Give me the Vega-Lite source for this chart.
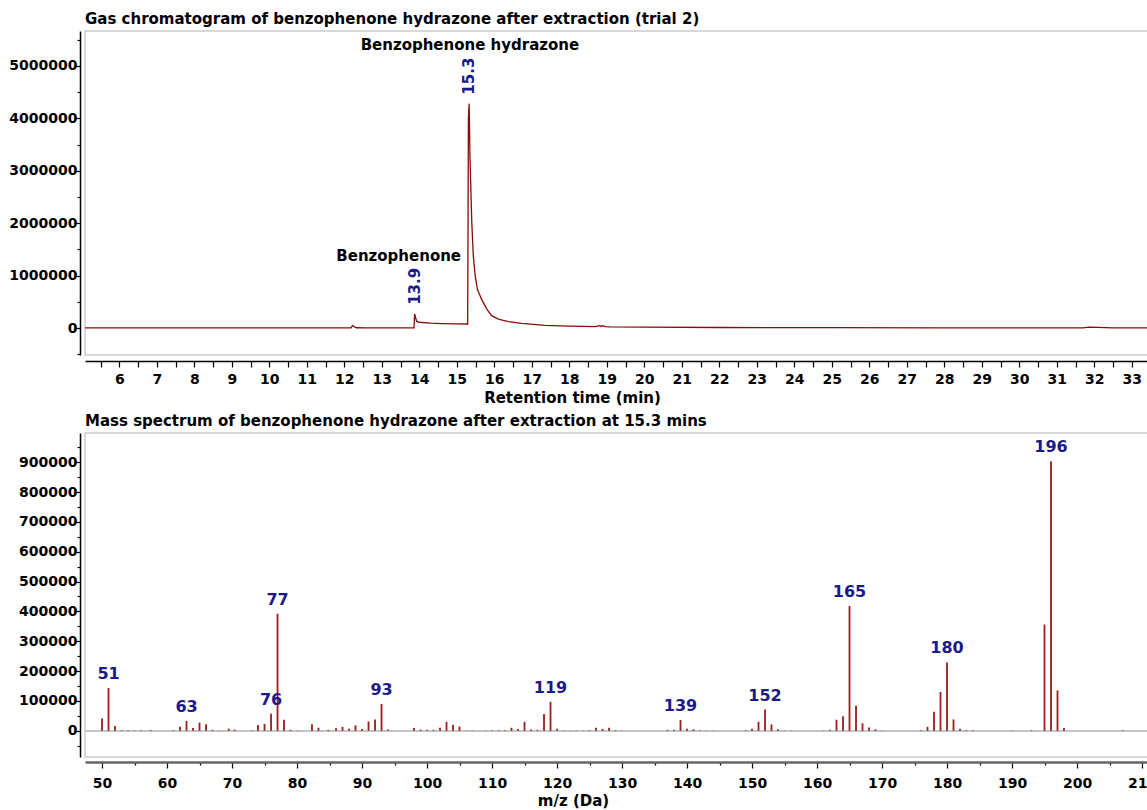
{
  "$schema": "https://vega.github.io/schema/vega-lite/v6.json",
  "padding": {"left": 8, "top": 11, "right": 0, "bottom": 0},
  "spacing": 7,
  "datasets": {
    "gc": [
      {"t": 5.085, "v": 4000}, {"t": 6, "v": 4000}, {"t": 7, "v": 3000}, {"t": 8, "v": 2000},
      {"t": 9, "v": 1000}, {"t": 10, "v": 1000}, {"t": 11, "v": 1000}, {"t": 12, "v": 2000},
      {"t": 12.18, "v": 3000}, {"t": 12.22, "v": 50000}, {"t": 12.26, "v": 25000}, {"t": 12.32, "v": 5000},
      {"t": 12.6, "v": 3000}, {"t": 13.2, "v": 3000}, {"t": 13.86, "v": 5000},
      {"t": 13.875, "v": 270000}, {"t": 13.9, "v": 200000}, {"t": 13.93, "v": 125000},
      {"t": 14.0, "v": 110000}, {"t": 14.3, "v": 95000}, {"t": 14.6, "v": 85000},
      {"t": 15.0, "v": 78000}, {"t": 15.29, "v": 76000}, {"t": 15.31, "v": 4000000},
      {"t": 15.33, "v": 4280000}, {"t": 15.35, "v": 3300000}, {"t": 15.4, "v": 2010000},
      {"t": 15.44, "v": 1380000}, {"t": 15.49, "v": 1000000}, {"t": 15.55, "v": 740000},
      {"t": 15.66, "v": 550000}, {"t": 15.8, "v": 360000}, {"t": 15.93, "v": 235000},
      {"t": 16.11, "v": 170000}, {"t": 16.37, "v": 120000}, {"t": 16.73, "v": 90000},
      {"t": 17.35, "v": 50000}, {"t": 18.0, "v": 35000}, {"t": 18.7, "v": 25000},
      {"t": 18.8, "v": 45000}, {"t": 18.85, "v": 30000}, {"t": 18.9, "v": 45000},
      {"t": 18.95, "v": 28000}, {"t": 19.1, "v": 22000}, {"t": 20, "v": 15000},
      {"t": 22, "v": 10000}, {"t": 25, "v": 6000}, {"t": 28, "v": 4000}, {"t": 31.7, "v": 3000},
      {"t": 31.85, "v": 16000}, {"t": 32.1, "v": 12000}, {"t": 32.5, "v": 4000},
      {"t": 33.62, "v": 2000}
    ],
    "gcpk": [
      {"t": 15.33, "v": 4280000, "txt": "15.3"},
      {"t": 13.875, "v": 270000, "txt": "13.9"}
    ],
    "gcname": [
      {"t": 15.35, "v": 5390000, "name": "Benzophenone hydrazone"},
      {"t": 13.45, "v": 1370000, "name": "Benzophenone"}
    ],
    "ms": [
      {"mz": 50, "i": 41000}, {"mz": 51, "i": 143000, "label": "51"}, {"mz": 52, "i": 16000},
      {"mz": 53, "i": 2000}, {"mz": 54, "i": 1500}, {"mz": 55, "i": 1500}, {"mz": 56, "i": 1500},
      {"mz": 57.5, "i": 2500}, {"mz": 61, "i": 2000}, {"mz": 62, "i": 13000},
      {"mz": 63, "i": 33000, "label": "63"}, {"mz": 64, "i": 9000}, {"mz": 65, "i": 27000},
      {"mz": 66, "i": 22000}, {"mz": 67, "i": 3000}, {"mz": 68, "i": 1000}, {"mz": 69.5, "i": 7000},
      {"mz": 70.4, "i": 4000}, {"mz": 73, "i": 1500}, {"mz": 74, "i": 19000}, {"mz": 75, "i": 23000},
      {"mz": 76, "i": 57000, "label": "76"}, {"mz": 77, "i": 392000, "label": "77"},
      {"mz": 78, "i": 37000}, {"mz": 79, "i": 3000}, {"mz": 80, "i": 1000}, {"mz": 82.3, "i": 22000},
      {"mz": 83.3, "i": 10000}, {"mz": 84.8, "i": 3000}, {"mz": 86, "i": 8000}, {"mz": 87, "i": 13000},
      {"mz": 88, "i": 7000}, {"mz": 89, "i": 18000}, {"mz": 90, "i": 6000}, {"mz": 91, "i": 31000},
      {"mz": 92, "i": 38000}, {"mz": 93, "i": 90000, "label": "93"}, {"mz": 94, "i": 4000},
      {"mz": 98, "i": 9000}, {"mz": 99, "i": 4000}, {"mz": 100, "i": 3000}, {"mz": 101, "i": 3000},
      {"mz": 102, "i": 10000}, {"mz": 103, "i": 30000}, {"mz": 104, "i": 20000}, {"mz": 105, "i": 14000},
      {"mz": 106, "i": 1000}, {"mz": 107, "i": 1000}, {"mz": 109, "i": 1000}, {"mz": 110, "i": 2000},
      {"mz": 111, "i": 2000}, {"mz": 112, "i": 2000}, {"mz": 113, "i": 10000}, {"mz": 114, "i": 6000},
      {"mz": 115, "i": 30000}, {"mz": 116, "i": 4000}, {"mz": 117, "i": 3000}, {"mz": 118, "i": 56000},
      {"mz": 119, "i": 97000, "label": "119"}, {"mz": 120, "i": 7000}, {"mz": 121, "i": 1000},
      {"mz": 122, "i": 1000}, {"mz": 123, "i": 1000}, {"mz": 124, "i": 1000}, {"mz": 125, "i": 2000},
      {"mz": 126, "i": 10000}, {"mz": 127, "i": 6000}, {"mz": 128, "i": 10000}, {"mz": 129, "i": 2000},
      {"mz": 130, "i": 1000}, {"mz": 137, "i": 3000}, {"mz": 138, "i": 3000},
      {"mz": 139, "i": 36000, "label": "139"}, {"mz": 140, "i": 7000}, {"mz": 141, "i": 5000},
      {"mz": 142, "i": 2000}, {"mz": 143, "i": 1000}, {"mz": 144, "i": 1000}, {"mz": 149, "i": 2000},
      {"mz": 150, "i": 7000}, {"mz": 151, "i": 30000}, {"mz": 152, "i": 71000, "label": "152"},
      {"mz": 153, "i": 21000}, {"mz": 154, "i": 5000}, {"mz": 155, "i": 1000}, {"mz": 156, "i": 1000},
      {"mz": 161, "i": 1000}, {"mz": 162, "i": 3000}, {"mz": 163, "i": 37000}, {"mz": 164, "i": 49000},
      {"mz": 165, "i": 418000, "label": "165"}, {"mz": 166, "i": 84000}, {"mz": 167, "i": 25000},
      {"mz": 168, "i": 11000}, {"mz": 169, "i": 5000}, {"mz": 170, "i": 1000}, {"mz": 176, "i": 2000},
      {"mz": 177, "i": 13000}, {"mz": 178, "i": 64000}, {"mz": 179, "i": 130000},
      {"mz": 180, "i": 229000, "label": "180"}, {"mz": 181, "i": 38000}, {"mz": 182, "i": 7000},
      {"mz": 183, "i": 2000}, {"mz": 184, "i": 2000}, {"mz": 190, "i": 1000}, {"mz": 193, "i": 2000},
      {"mz": 195, "i": 356000}, {"mz": 196, "i": 903000, "label": "196"}, {"mz": 197, "i": 135000},
      {"mz": 198, "i": 9000}, {"mz": 207, "i": 2000}
    ]
  },
  "vconcat": [
    {
      "width": 1070,
      "height": 324,
      "title": {"text": "Gas chromatogram of benzophenone hydrazone after extraction (trial 2)", "anchor": "start", "frame": "group", "offset": 4},
      "encoding": {
        "x": {
          "field": "t", "type": "quantitative",
          "scale": {"domain": [5.085, 33.62], "nice": false, "zero": false},
          "axis": {
            "title": "Retention time (min)",
            "titleX": 487, "titleAlign": "center", "titlePadding": 4,
            "values": [5.5,6,6.5,7,7.5,8,8.5,9,9.5,10,10.5,11,11.5,12,12.5,13,13.5,14,14.5,15,15.5,16,16.5,17,17.5,18,18.5,19,19.5,20,20.5,21,21.5,22,22.5,23,23.5,24,24.5,25,25.5,26,26.5,27,27.5,28,28.5,29,29.5,30,30.5,31,31.5,32,32.5,33,33.5],
            "labelExpr": "datum.value % 1 === 0 ? '' + datum.value : ''",
            "labelOverlap": false,
            "labelPadding": 5,
            "tickSize": 6,
            "encode": {"ticks": {"update": {"y2": {"signal": "datum.value % 1 === 0 ? 6 : 3"}}}},
            "domainColor": "black",
            "offset": 6
          }
        },
        "y": {
          "field": "v", "type": "quantitative",
          "scale": {"domain": [-515000, 5666000], "nice": false, "zero": false},
          "axis": {
            "title": null,
            "values": [-500000,0,500000,1000000,1500000,2000000,2500000,3000000,3500000,4000000,4500000,5000000,5500000],
            "labelExpr": "datum.value % 1000000 === 0 ? datum.label : ''",
            "format": "d",
            "labelOverlap": false,
            "labelPadding": -3,
            "tickSize": {"condition": {"test": "datum.value % 1000000 === 0", "value": 6}, "value": 3},
            "domainColor": "black",
            "offset": 5
          }
        }
      },
      "layer": [
        {
          "data": {"name": "gc"},
          "mark": {"type": "line", "color": "#8b0a0a", "strokeWidth": 1.3, "clip": true}
        },
        {
          "data": {"name": "gcpk"},
          "mark": {"type": "text", "angle": 270, "align": "left", "baseline": "middle", "dx": 9, "color": "#1a1a8a", "font": "DejaVu Sans", "fontWeight": "bold", "fontSize": 15},
          "encoding": {"text": {"field": "txt"}}
        },
        {
          "data": {"name": "gcname"},
          "mark": {"type": "text", "align": "center", "baseline": "middle", "color": "black", "font": "DejaVu Sans", "fontWeight": "bold", "fontSize": 15},
          "encoding": {"text": {"field": "name"}}
        }
      ]
    },
    {
      "width": 1070,
      "height": 324,
      "title": {"text": "Mass spectrum of benzophenone hydrazone after extraction at 15.3 mins", "anchor": "start", "frame": "group", "offset": 4},
      "data": {"name": "ms"},
      "encoding": {
        "x": {
          "field": "mz", "type": "quantitative",
          "scale": {"domain": [47.38, 212.0], "nice": false, "zero": false},
          "axis": {
            "title": "m/z (Da)",
            "titleX": 488, "titleAlign": "center", "titlePadding": 3,
            "values": [50,55,60,65,70,75,80,85,90,95,100,105,110,115,120,125,130,135,140,145,150,155,160,165,170,175,180,185,190,195,200,205,210],
            "labelExpr": "datum.value % 10 === 0 ? datum.label : ''",
            "labelOverlap": false,
            "labelPadding": 8,
            "tickSize": {"condition": {"test": "datum.value % 10 === 0", "value": 6}, "value": 3},
            "domainColor": "#666666", "domainWidth": 2.5,
            "offset": 5
          }
        },
        "y": {
          "field": "i", "type": "quantitative",
          "scale": {"domain": [-88000, 998000], "nice": false, "zero": false},
          "axis": {
            "title": null,
            "values": [-50000,0,50000,100000,150000,200000,250000,300000,350000,400000,450000,500000,550000,600000,650000,700000,750000,800000,850000,900000,950000],
            "labelExpr": "datum.value % 100000 === 0 ? datum.label : ''",
            "format": "d",
            "labelOverlap": false,
            "labelPadding": -3,
            "tickSize": {"condition": {"test": "datum.value % 100000 === 0", "value": 6}, "value": 3},
            "domainColor": "black", "domainWidth": 1.5,
            "offset": 5
          }
        }
      },
      "layer": [
        {
          "mark": {"type": "rule", "color": "#c4c4c4", "strokeWidth": 1.2},
          "encoding": {"x": {"datum": 47.38}, "x2": {"datum": 212.0}, "y": {"datum": 0}}
        },
        {
          "mark": {"type": "rule", "color": "#9b1c1c", "strokeWidth": 1.8},
          "encoding": {"y2": {"datum": 0}}
        },
        {
          "transform": [{"filter": "datum.label != null"}],
          "mark": {"type": "text", "align": "center", "baseline": "bottom", "dy": -6, "color": "#1a1a8a", "font": "DejaVu Sans", "fontWeight": "bold", "fontSize": 16},
          "encoding": {"text": {"field": "label"}}
        }
      ]
    }
  ],
  "config": {
    "view": {"stroke": "#cccccc", "strokeWidth": 1.5},
    "title": {"font": "DejaVu Sans", "fontSize": 15, "fontWeight": "bold", "color": "black"},
    "axis": {
      "grid": false,
      "domainColor": "black", "domainWidth": 1.5,
      "tickColor": "black", "tickWidth": 1.2,
      "labelFont": "DejaVu Sans", "labelFontSize": 14, "labelFontWeight": "bold", "labelColor": "black",
      "labelOverlap": false, "labelFlush": false,
      "titleFont": "DejaVu Sans", "titleFontSize": 15, "titleFontWeight": "bold", "titleColor": "black"
    }
  }
}
